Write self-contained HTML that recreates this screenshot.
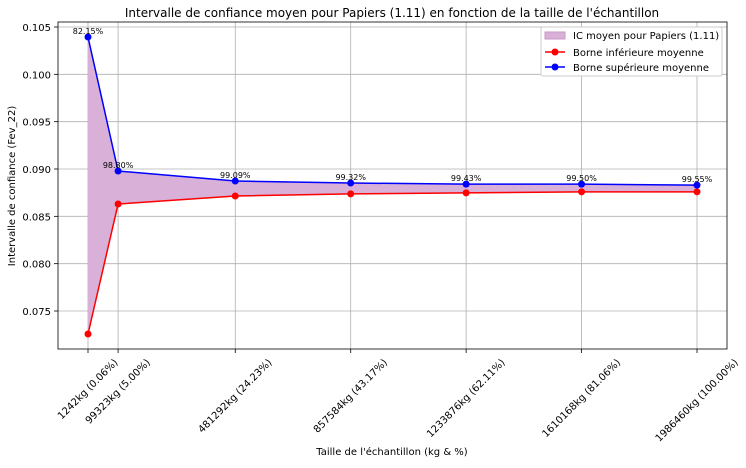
<!DOCTYPE html>
<html><head><meta charset="utf-8"><style>
body{margin:0;background:#fff;font-family:"Liberation Sans","DejaVu Sans",sans-serif;}
svg text{font-family:"DejaVu Sans","Liberation Sans",sans-serif;}
</style></head><body>
<svg id="chart" width="746" height="463" xmlns="http://www.w3.org/2000/svg"></svg>
<script>
const sizes=[1242,99323,481292,857584,1233876,1610168,1986460];
const pctLabels=["0.06%","5.00%","24.23%","43.17%","62.11%","81.06%","100.00%"];
const upper=[0.10394,0.08979,0.08873,0.08852,0.0884,0.0884,0.0883];
const lower=[0.07257,0.0863,0.08715,0.08737,0.08748,0.08759,0.08759];
const confLabels=["82.15%","98.80%","99.09%","99.32%","99.43%","99.50%","99.55%"];
const yTicks=[0.075,0.080,0.085,0.090,0.095,0.100,0.105];

const NS="http://www.w3.org/2000/svg";
const svg=document.getElementById('chart');
const L=58,R=727,T=22,B=349;
const x=v=>88+(v-1242)*(697-88)/(1986460-1242);
const y=v=>27+(0.105-v)*(311-27)/0.03;
function mk(tag,attrs,parent){const e=document.createElementNS(NS,tag);for(const k in attrs)e.setAttribute(k,attrs[k]);(parent||svg).appendChild(e);return e;}

yTicks.forEach(t=>{
  const g=mk('line',{x1:L,x2:R,y1:y(t),y2:y(t),stroke:'#b0b0b0','stroke-width':0.8});
  
  
  const tk=mk('line',{x1:L-4,x2:L,y1:y(t),y2:y(t),stroke:'#000','stroke-width':0.8});
  
  
  const tx=mk('text',{x:L-7,y:y(t)+4,'text-anchor':'end','font-size':10});
  tx.textContent=t.toFixed(3);
  
  
});
sizes.forEach((s,i)=>{
  const g=mk('line',{x1:x(s),x2:x(s),y1:T,y2:B,stroke:'#b0b0b0','stroke-width':0.8});
  
  
  const tk=mk('line',{x1:x(s),x2:x(s),y1:B,y2:B+4,stroke:'#000','stroke-width':0.8});
  
  
  const tx=mk('text',{x:0,y:0,'text-anchor':'end','font-size':10});
  tx.textContent=s+'kg ('+pctLabels[i]+')';
  
  
  const w=tx.getComputedTextLength();
  const ax=x(s)+w*0.3536+2, ay=B+14;
  tx.setAttribute('x',ax);tx.setAttribute('y',ay);
  tx.setAttribute('transform',`rotate(-45 ${ax} ${ay})`);
});
let d='M'+sizes.map((s,i)=>x(s)+','+y(upper[i])).join('L');
for(let i=sizes.length-1;i>=0;i--)d+='L'+x(sizes[i])+','+y(lower[i]);
const area=mk('path',{d:d+'Z',fill:'#d8b0d8'});


function series(vals,color,name){
  const p=mk('polyline',{points:sizes.map((s,i)=>x(s)+','+y(vals[i])).join(' '),fill:'none',stroke:color,'stroke-width':1.5});
  
  
  sizes.forEach((s,i)=>{
    const c=mk('circle',{cx:x(s),cy:y(vals[i]),r:3.5,fill:color});
    
    
  });
}
series(lower,'#ff0000','lower-bound');
series(upper,'#0000ff','upper-bound');
sizes.forEach((s,i)=>{
  const t=mk('text',{x:x(s),y:y(upper[i])-3,'text-anchor':'middle','font-size':8});
  t.textContent=confLabels[i];
  
  
});
const fr=mk('rect',{x:L,y:T,width:R-L,height:B-T,fill:'none',stroke:'#000','stroke-width':0.8});


</script>
<svg style="position:absolute;left:0;top:0" width="746" height="463" xmlns="http://www.w3.org/2000/svg">
<text x="392" y="17" text-anchor="middle" font-size="12">Intervalle de confiance moyen pour Papiers (1.11) en fonction de la taille de l'échantillon</text>
<text x="392" y="455" text-anchor="middle" font-size="10">Taille de l'échantillon (kg &amp; %)</text>
<text x="15" y="186" text-anchor="middle" font-size="10" transform="rotate(-90 15 186)">Intervalle de confiance (Fev_22)</text>
<g>
<rect x="541" y="27" width="181" height="49" fill="#fff" stroke="#ccc" rx="2"/>
<rect x="545" y="32" width="20" height="7" fill="#d8b0d8" stroke="#c79ac7"/>
<text x="573" y="39" font-size="10">IC moyen pour Papiers (1.11)</text>
<line x1="545" x2="565" y1="52" y2="52" stroke="#f00" stroke-width="1.5"/><circle cx="555" cy="52" r="3.5" fill="#f00"/>
<text x="573" y="56" font-size="10">Borne inférieure moyenne</text>
<line x1="545" x2="565" y1="67" y2="67" stroke="#00f" stroke-width="1.5"/><circle cx="555" cy="67" r="3.5" fill="#00f"/>
<text x="573" y="71" font-size="10">Borne supérieure moyenne</text>
</g>
</svg>
</body></html>
